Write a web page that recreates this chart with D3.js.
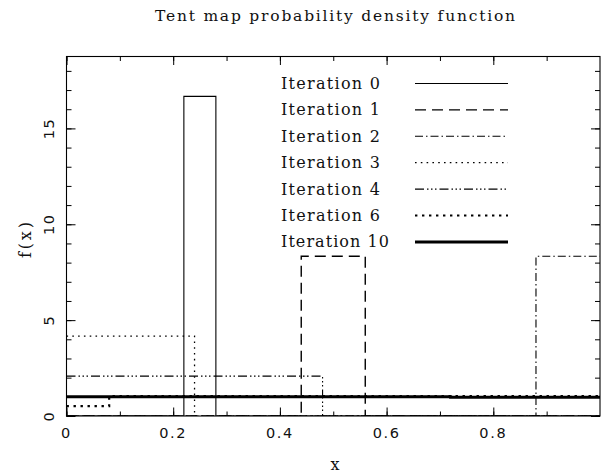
<!DOCTYPE html>
<html>
<head>
<meta charset="utf-8">
<script src="https://cdn.jsdelivr.net/npm/d3@7"></script>
<style>
  html, body { margin: 0; padding: 0; background: #fff; }
  svg { display: block; }
</style>
</head>
<body>
<svg id="chart" width="605" height="474"></svg>
<script>
// Tent map density after n iterations, as piecewise-constant histograms.
const seriesLabels = ["Iteration 0", "Iteration 1", "Iteration 2", "Iteration 3",
                      "Iteration 4", "Iteration 6", "Iteration 10"];
const edges0 = [0, 0.22, 0.28, 1];   const dens0 = [0, 16.67, 0];
const edges1 = [0, 0.44, 0.56, 1];   const dens1 = [0, 8.33, 0];
const edges2 = [0, 0.88, 1];         const dens2 = [0, 8.33];
const edges3 = [0, 0.24, 1];         const dens3 = [4.17, 0];
const edges4 = [0, 0.48, 1];         const dens4 = [2.08, 0];
const edges6 = [0, 0.08, 1];         const dens6 = [0.52, 1.04];
const edges10 = [0, 0.72, 1];        const dens10 = [1.01, 0.98];

const xTickValues = [0, 0.2, 0.4, 0.6, 0.8];
const yTickValues = [0, 5, 10, 15];

const allEdges = [edges0, edges1, edges2, edges3, edges4, edges6, edges10];
const allDens = [dens0, dens1, dens2, dens3, dens4, dens6, dens10];

// line styles per series: [stroke-width, dasharray]
const styles = [
  [1.1, null],
  [1.4, "11,6"],
  [1.1, "8,3,1.5,3"],
  [1.3, "1.6,4.2"],
  [1.1, "9,3,1.5,2.5,1.5,2.5,1.5,3"],
  [2.2, "2.4,4.6"],
  [3.0, null]
];

const svg = d3.select("#chart");
const plotLeft = 66.5, plotRight = 600, plotTop = 56.5, plotBottom = 416;
const x = d3.scaleLinear().domain([0, 1]).range([plotLeft, plotRight]);
const y = d3.scaleLinear().domain([0, 18.75]).range([plotBottom, plotTop]);

const serif = "'DejaVu Serif', 'Liberation Serif', serif";
const sans = "'DejaVu Sans', sans-serif";

// title
svg.append("text")
  .attr("x", 335).attr("y", 21)
  .attr("text-anchor", "middle")
  .attr("font-family", serif).attr("font-size", 15.5)
  .attr("fill", "#111")
  .attr("textLength", 360).attr("lengthAdjust", "spacing")
  .text("Tent map probability density function");

// clip for curves
svg.append("clipPath").attr("id", "plotClip")
  .append("rect").attr("x", plotLeft).attr("y", plotTop)
  .attr("width", plotRight - plotLeft).attr("height", plotBottom - plotTop);

const line = d3.line()
  .x(d => x(d[0])).y(d => y(d[1]))
  .curve(d3.curveStepAfter);

const curves = svg.append("g").attr("clip-path", "url(#plotClip)");
allEdges.forEach((edges, i) => {
  const dens = allDens[i];
  const pts = dens.map((v, k) => [edges[k], v]);
  pts.push([edges[edges.length - 1], dens[dens.length - 1]]);
  curves.append("path")
    .datum(pts)
    .attr("d", line)
    .attr("fill", "none")
    .attr("stroke", "#000")
    .attr("stroke-width", styles[i][0])
    .attr("stroke-dasharray", styles[i][1]);
});

// axes with inward ticks on all four sides
const xMinor = d3.range(0, 10).map(k => k / 10);
const yMinor = d3.range(0, 19);

function tickAxis(axis, values, size) {
  return axis.tickValues(values).tickSizeInner(size).tickSizeOuter(0).tickFormat("");
}

const axisStyle = g => {
  g.select(".domain").remove();
  g.selectAll("line").attr("stroke", "#000").attr("stroke-width", 1);
};

svg.append("g").attr("transform", `translate(0,${plotBottom})`)
  .call(tickAxis(d3.axisTop(x), xMinor, 4.5)).call(axisStyle);
svg.append("g").attr("transform", `translate(0,${plotBottom})`)
  .call(tickAxis(d3.axisTop(x), xTickValues, 8.5)).call(axisStyle);
svg.append("g").attr("transform", `translate(0,${plotTop})`)
  .call(tickAxis(d3.axisBottom(x), xMinor, 4.5)).call(axisStyle);
svg.append("g").attr("transform", `translate(0,${plotTop})`)
  .call(tickAxis(d3.axisBottom(x), xTickValues, 8.5)).call(axisStyle);
svg.append("g").attr("transform", `translate(${plotLeft},0)`)
  .call(tickAxis(d3.axisRight(y), yMinor, 5)).call(axisStyle);
svg.append("g").attr("transform", `translate(${plotLeft},0)`)
  .call(tickAxis(d3.axisRight(y), yTickValues, 9)).call(axisStyle);
svg.append("g").attr("transform", `translate(${plotRight},0)`)
  .call(tickAxis(d3.axisLeft(y), yMinor, 5)).call(axisStyle);
svg.append("g").attr("transform", `translate(${plotRight},0)`)
  .call(tickAxis(d3.axisLeft(y), yTickValues, 9)).call(axisStyle);

// frame
svg.append("rect")
  .attr("x", plotLeft).attr("y", plotTop)
  .attr("width", plotRight - plotLeft).attr("height", plotBottom - plotTop)
  .attr("fill", "none").attr("stroke", "#000").attr("stroke-width", 1.1);

// tick labels
svg.append("g").selectAll("text")
  .data(xTickValues).join("text")
  .attr("x", d => x(d)).attr("y", 438)
  .attr("text-anchor", "middle")
  .attr("font-family", sans).attr("font-size", 14.5)
  .attr("letter-spacing", 1.6)
  .attr("fill", "#111")
  .text(d => d3.format("")(d));

svg.append("g").selectAll("text")
  .data(yTickValues).join("text")
  .attr("transform", d => `translate(54,${y(d)}) rotate(-90)`)
  .attr("text-anchor", "middle")
  .attr("font-family", sans).attr("font-size", 14.5)
  .attr("letter-spacing", 1.6)
  .attr("fill", "#111")
  .text(d => d);

// axis titles
svg.append("text")
  .attr("x", 335).attr("y", 470)
  .attr("text-anchor", "middle")
  .attr("font-family", serif).attr("font-size", 16)
  .attr("fill", "#111")
  .text("x");
svg.append("text")
  .attr("transform", `translate(31,240) rotate(-90)`)
  .attr("text-anchor", "middle")
  .attr("font-family", serif).attr("font-size", 16)
  .attr("fill", "#111")
  .attr("textLength", 36).attr("lengthAdjust", "spacing")
  .text("f(x)");

// legend
const legend = svg.append("g");
seriesLabels.forEach((lab, i) => {
  const by = 89 + i * 26.4;
  legend.append("text")
    .attr("x", 281).attr("y", by)
    .attr("font-family", serif).attr("font-size", 16)
    .attr("fill", "#111")
    .attr("textLength", lab.length * 9).attr("lengthAdjust", "spacing")
    .text(lab);
  legend.append("line")
    .attr("x1", 415).attr("x2", 508)
    .attr("y1", by - 5.5).attr("y2", by - 5.5)
    .attr("stroke", "#000")
    .attr("stroke-width", styles[i][0])
    .attr("stroke-dasharray", styles[i][1]);
});
</script>
</body>
</html>
